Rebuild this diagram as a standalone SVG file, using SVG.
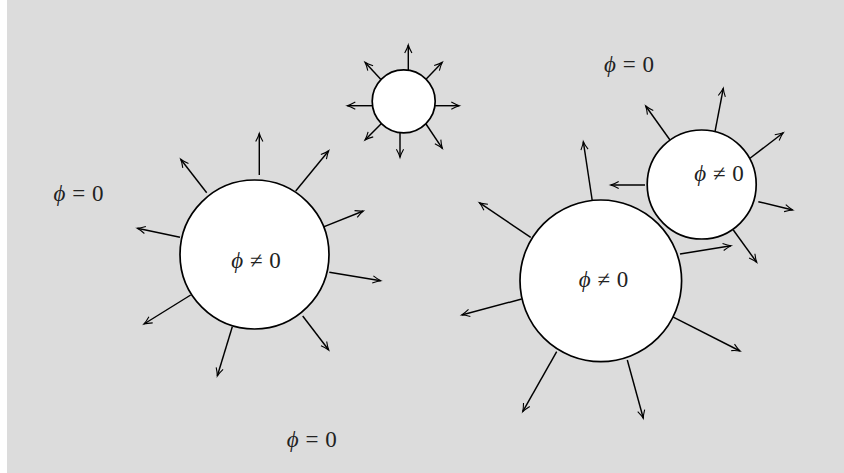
<svg xmlns="http://www.w3.org/2000/svg" width="844" height="473" viewBox="0 0 844 473">
<style>
.bub{fill:#fff;stroke:#000;stroke-width:1.7}
.ar{stroke:#000;stroke-width:1.45;fill:none;marker-end:url(#ah)}
.lab{font-family:"Liberation Serif","DejaVu Serif",serif;font-size:23px;fill:#222;text-anchor:middle;word-spacing:1px}
.ph{font-style:italic}
</style>
<defs>
<marker id="ah" markerUnits="userSpaceOnUse" orient="auto" markerWidth="14" markerHeight="14" refX="0" refY="0" viewBox="-9 -7 14 14" overflow="visible">
<path d="M-8,-3.6 Q-3,-0.8 0,0 Q-3,0.8 -8,3.6" fill="none" stroke="#000" stroke-width="1.1"/>
</marker>
</defs>
<rect x="7" y="0" width="837" height="473" fill="#dcdcdc"/>
<g id="connectors">
<line class="ar" x1="259.3" y1="175" x2="259.3" y2="133.5"/>
<line class="ar" x1="206.7" y1="192.7" x2="180.7" y2="159.3"/>
<line class="ar" x1="295.7" y1="191" x2="328.7" y2="150.7"/>
<line class="ar" x1="321.7" y1="227.7" x2="363.3" y2="211"/>
<line class="ar" x1="329.3" y1="272.3" x2="380.7" y2="280.7"/>
<line class="ar" x1="302.7" y1="316" x2="328.7" y2="350"/>
<line class="ar" x1="232.3" y1="326.7" x2="217.3" y2="376"/>
<line class="ar" x1="190.7" y1="295" x2="144" y2="324"/>
<line class="ar" x1="180" y1="237.3" x2="137.3" y2="228.3"/>
<line class="ar" x1="408.3" y1="70" x2="408.3" y2="45"/>
<line class="ar" x1="380.7" y1="79.3" x2="365" y2="62.3"/>
<line class="ar" x1="426" y1="79.3" x2="442.3" y2="62.3"/>
<line class="ar" x1="372.3" y1="105.7" x2="347.3" y2="105.7"/>
<line class="ar" x1="435" y1="105.7" x2="459.3" y2="105.7"/>
<line class="ar" x1="381.7" y1="123.3" x2="365" y2="140"/>
<line class="ar" x1="400" y1="132.7" x2="400" y2="157.3"/>
<line class="ar" x1="426" y1="124" x2="442.3" y2="148.3"/>
<line class="ar" x1="592.3" y1="201" x2="583.3" y2="141.7"/>
<line class="ar" x1="530.7" y1="237.3" x2="479.3" y2="202.7"/>
<line class="ar" x1="521.7" y1="299" x2="461.7" y2="315"/>
<line class="ar" x1="556.7" y1="351.7" x2="522.7" y2="411.7"/>
<line class="ar" x1="627.3" y1="360" x2="643.3" y2="418.3"/>
<line class="ar" x1="672.3" y1="316.7" x2="740" y2="351"/>
<line class="ar" x1="680" y1="254" x2="731" y2="245.7"/>
<line class="ar" x1="715" y1="131.7" x2="723.3" y2="88.3"/>
<line class="ar" x1="670" y1="140" x2="645.7" y2="106"/>
<line class="ar" x1="750" y1="158.3" x2="783.3" y2="132.7"/>
<line class="ar" x1="645" y1="185" x2="610.7" y2="185"/>
<line class="ar" x1="758.3" y1="201.7" x2="792.7" y2="210"/>
<line class="ar" x1="733.3" y1="230" x2="756.7" y2="262.3"/>
</g>
<g id="bubble-left">
<circle class="bub" cx="254.5" cy="254.5" r="74.5"/>
<text class="lab" x="256" y="267.5"><tspan class="ph">ϕ</tspan> ≠ 0</text>
</g>
<g id="bubble-top">
<circle class="bub" cx="403.7" cy="101.3" r="31.5"/>
</g>
<g id="bubble-right-big">
<circle class="bub" cx="600.8" cy="280.8" r="80.8"/>
<text class="lab" x="603.5" y="286.5"><tspan class="ph">ϕ</tspan> ≠ 0</text>
</g>
<g id="bubble-right-small">
<circle class="bub" cx="701.7" cy="184.5" r="54.5"/>
<text class="lab" x="719" y="181"><tspan class="ph">ϕ</tspan> ≠ 0</text>
</g>
<g id="labels">
<text class="lab" x="78.5" y="201"><tspan class="ph">ϕ</tspan> = 0</text>
<text class="lab" x="311.7" y="446.5"><tspan class="ph">ϕ</tspan> = 0</text>
<text class="lab" x="629" y="71.5"><tspan class="ph">ϕ</tspan> = 0</text>
</g>
</svg>
